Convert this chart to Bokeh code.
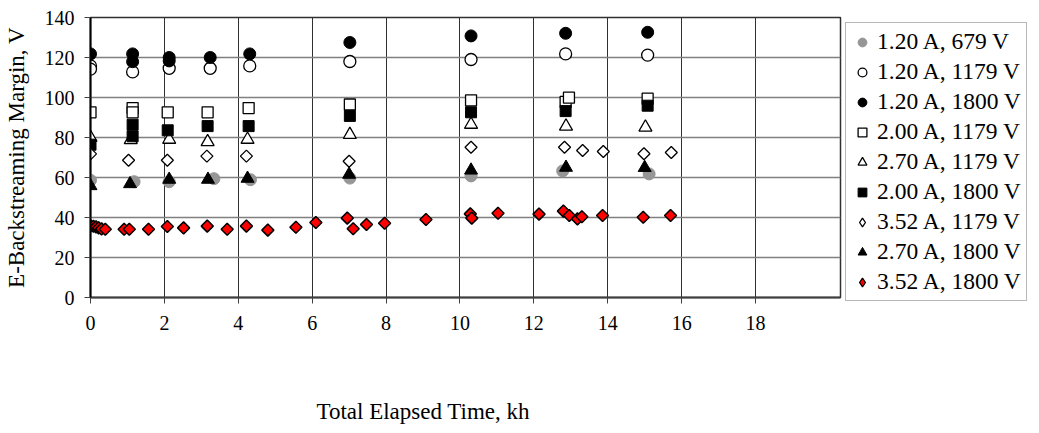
import numpy as np
from bokeh.plotting import figure
from bokeh.models import Range1d, FixedTicker, Legend, LegendItem, Title
from bokeh.embed import file_html
from bokeh.resources import INLINE

# ---------------- data ----------------
labels = ["1.20 A, 679 V", "1.20 A, 1179 V", "1.20 A, 1800 V", "2.00 A, 1179 V",
          "2.70 A, 1179 V", "2.00 A, 1800 V", "3.52 A, 1179 V", "2.70 A, 1800 V",
          "3.52 A, 1800 V"]

x_120_679 = [0.0, 1.18, 2.13, 3.34, 4.33, 7.02, 10.30, 12.78, 15.12]
y_120_679 = [58.6, 57.9, 57.9, 59.4, 58.9, 59.7, 60.8, 63.3, 61.8]

x_120_1179 = [0.0, 0.0, 1.14, 2.13, 3.24, 4.31, 7.02, 10.30, 12.86, 15.08]
y_120_1179 = [115.8, 114.2, 112.8, 114.6, 114.6, 115.8, 118.0, 119.0, 121.8, 121.2]

x_120_1800 = [0.0, 1.14, 1.14, 2.13, 2.13, 3.24, 4.31, 7.02, 10.30, 12.86, 15.08]
y_120_1800 = [121.8, 121.8, 117.9, 120.0, 118.3, 120.0, 121.8, 127.5, 130.8, 132.1, 132.6]

x_200_1179 = [0.0, 1.14, 1.14, 2.09, 3.17, 4.28, 7.02, 10.30, 12.86, 12.95, 15.08]
y_200_1179 = [92.6, 94.7, 92.6, 92.6, 92.6, 94.7, 96.5, 98.6, 97.8, 99.9, 99.4]

x_270_1179 = [0.0, 1.09, 2.13, 3.17, 4.25, 7.02, 10.30, 12.87, 15.02]
y_270_1179 = [80.0, 78.8, 79.0, 77.8, 79.0, 81.4, 86.5, 85.6, 85.1]

x_200_1800 = [0.0, 1.14, 1.14, 2.09, 3.17, 4.28, 7.02, 10.30, 12.86, 15.08]
y_200_1800 = [76.4, 86.4, 80.6, 83.6, 85.7, 85.7, 90.8, 92.6, 93.2, 95.9]

x_352_1179 = [0.0, 1.03, 2.08, 3.15, 4.22, 7.00, 10.30, 12.83, 13.32, 13.88, 14.98, 15.72]
y_352_1179 = [71.8, 68.6, 68.6, 70.7, 70.7, 68.1, 75.1, 75.1, 73.5, 73.0, 71.9, 72.5]

x_270_1800 = [0.0, 1.07, 2.13, 3.18, 4.25, 7.00, 10.30, 12.87, 15.00]
y_270_1800 = [55.8, 56.8, 59.0, 59.0, 59.5, 61.5, 63.6, 65.0, 64.9]

x_352_1800 = [0.0, 0.08, 0.15, 0.22, 0.30, 0.40, 0.91, 1.05, 1.57, 2.08, 2.52, 3.16,
              3.70, 4.22, 4.80, 5.56, 6.10, 6.95, 7.11, 7.47, 7.96, 9.08, 10.28,
              10.32, 11.03, 12.14, 12.80, 12.96, 13.18, 13.30, 13.86, 14.96, 15.70]
y_352_1800 = [35.8, 35.6, 35.3, 34.8, 34.3, 34.1, 34.1, 34.1, 34.1, 35.5, 34.8, 35.7,
              34.1, 35.7, 33.7, 35.1, 37.5, 39.7, 34.4, 36.5, 37.1, 39.0, 41.8,
              39.7, 42.1, 41.7, 43.2, 41.0, 39.3, 40.4, 41.0, 40.1, 41.0]

x_ticks = [0, 2, 4, 6, 8, 10, 12, 14, 16, 18]
y_ticks = [0, 20, 40, 60, 80, 100, 120, 140]

FONT = "Liberation Serif"

p = figure(frame_width=750, frame_height=280,
           min_border_left=89, min_border_right=192, min_border_top=17, min_border_bottom=128,
           x_range=Range1d(0, 20.3), y_range=Range1d(0, 140),
           output_backend="svg", toolbar_location=None)
p.background_fill_color = "white"
p.border_fill_color = "white"
p.outline_line_color = "#303030"
p.outline_line_width = 1.5

# grid
p.xgrid.ticker = FixedTicker(ticks=x_ticks)
p.ygrid.ticker = FixedTicker(ticks=y_ticks)
p.xgrid.grid_line_color = "#303030"
p.xgrid.grid_line_width = 1
p.ygrid.grid_line_color = "#808080"
p.ygrid.grid_line_width = 1.5

# axes
p.xaxis.ticker = FixedTicker(ticks=x_ticks)
p.yaxis.ticker = FixedTicker(ticks=y_ticks)
for ax in (p.xaxis[0], p.yaxis[0]):
    ax.major_label_text_font = FONT
    ax.major_label_text_font_size = "20px"
    ax.major_label_text_color = "black"
    ax.axis_label_text_font = FONT
    ax.axis_label_text_font_size = "23px"
    ax.axis_label_text_font_style = "normal"
    ax.axis_label_text_color = "black"
    ax.major_tick_in = 0
    ax.major_tick_out = 6
    ax.minor_tick_in = 0
    ax.minor_tick_out = 0
    ax.major_tick_line_color = "#404040"
p.yaxis.axis_label = "E-Backstreaming Margin, V"
p.xaxis.axis_line_color = "#404040"
p.xaxis.axis_line_width = 2
p.yaxis.axis_line_color = "black"
p.yaxis.axis_line_width = 2
p.xaxis.major_label_standoff = 12
p.yaxis.major_label_standoff = 10
p.yaxis.axis_label_standoff = 13

# spacer (blank) title to push the x title down, then the x title itself
spacer = Title(text="\u00a0", text_font=FONT, text_font_size="10px", standoff=51)
p.add_layout(spacer, "below")
xtitle = Title(text="Total Elapsed Time, kh", align="left", offset=226,
               text_font=FONT, text_font_size="23px", text_font_style="normal",
               text_color="black", standoff=0, vertical_align="bottom")
p.add_layout(xtitle, "below")

# legend proxies for the diamond series (first point of each series, hidden
# beneath the rotated-square markers drawn afterwards)
l7 = p.scatter(x_352_1179[:1], y_352_1179[:1], marker="diamond", size=11,
               fill_color="white", line_color="black", line_width=1.3)
l9 = p.scatter(x_352_1800[:1], y_352_1800[:1], marker="diamond", size=11,
               fill_color="#FF0000", line_color="black", line_width=1.3)

# series
r1 = p.scatter(x_120_679, y_120_679, marker="circle", size=12,
               fill_color="#969696", line_color="#969696")
r2 = p.scatter(x_120_1179, y_120_1179, marker="circle", size=12,
               fill_color="white", line_color="black", line_width=1.3)
r3 = p.scatter(x_120_1800, y_120_1800, marker="circle", size=12,
               fill_color="black", line_color="black")
r4 = p.scatter(x_200_1179, y_200_1179, marker="square", size=11,
               fill_color="white", line_color="black", line_width=1.3)
r5 = p.scatter(x_270_1179, y_270_1179, marker="triangle", size=13,
               fill_color="white", line_color="black", line_width=1.3)
r6 = p.scatter(x_200_1800, y_200_1800, marker="square", size=11,
               fill_color="black", line_color="black")
r7 = p.scatter(x_352_1179, y_352_1179, marker="square", angle=np.pi / 4, size=8.5,
               fill_color="white", line_color="black", line_width=1.3)
r8 = p.scatter(x_270_1800, y_270_1800, marker="triangle", size=13,
               fill_color="black", line_color="black")
r9 = p.scatter(x_352_1800, y_352_1800, marker="square", angle=np.pi / 4, size=8.5,
               fill_color="#FF0000", line_color="black", line_width=1.5)

rs = [r1, r2, r3, r4, r5, r6, l7, r8, l9]
legend = Legend(items=[LegendItem(label=l, renderers=[r]) for l, r in zip(labels, rs)],
                location=(5, -4))
legend.label_text_font = FONT
legend.label_text_font_size = "23.5px"
legend.label_text_color = "black"
legend.border_line_color = "#707070"
legend.border_line_width = 1.5
legend.background_fill_color = "white"
legend.background_fill_alpha = 1
legend.glyph_width = 22
legend.glyph_height = 24
legend.label_height = 26
legend.label_standoff = 4
legend.spacing = 3
legend.padding = 5
legend.margin = 0
p.add_layout(legend, "right")

open("out.html", "w").write(file_html(p, INLINE))
